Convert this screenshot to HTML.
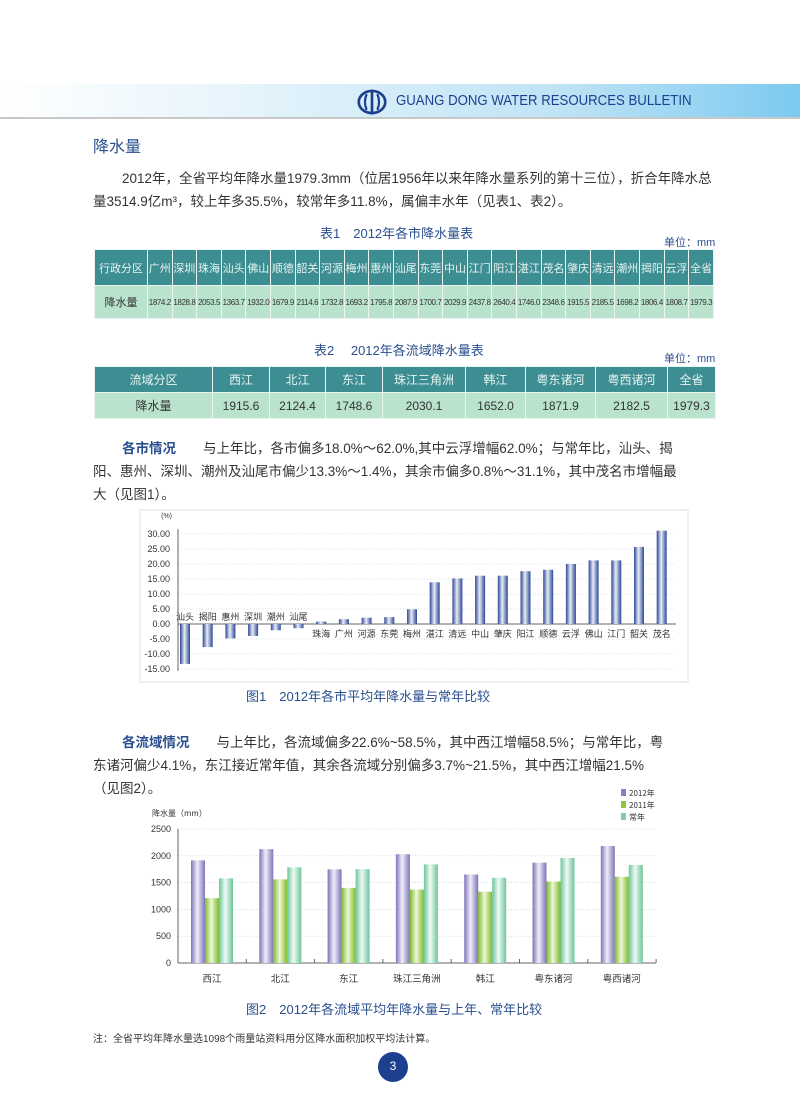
<!DOCTYPE html>
<html><head><meta charset="utf-8">
<style>
body{margin:0;width:800px;height:1094px;position:relative;background:#fff;font-family:"Liberation Sans","Noto Sans CJK SC",sans-serif;color:#333;overflow:hidden}
.a{position:absolute;white-space:nowrap}
.hd{position:absolute;left:0;top:84px;width:800px;height:33px;background:linear-gradient(90deg,#fff 0%,#e6f4fb 30%,#bfe3f5 70%,#7ccaf0 100%);border-bottom:2px solid #c8c8c8}
.p{font-size:13.5px;color:#333}
table{border-collapse:collapse;position:absolute;left:94px;font-family:"Liberation Sans","Noto Sans CJK SC",sans-serif}
td{text-align:center;border:1px solid #e8f4ee;padding:0}
tr.h td{background:#3d8e93;color:#e8f4f0}
tr.d td{background:#b9e3cc;color:#333}
.cap{font-size:13px;color:#2a4f8f}
</style></head><body>
<div class="hd"></div>
<svg class="a" style="left:357px;top:89px" width="30" height="26" viewBox="0 0 34 28"><ellipse cx="17" cy="14" rx="15" ry="12.5" fill="none" stroke="#1d3f8f" stroke-width="3"/><line x1="17" y1="0" x2="17" y2="28" stroke="#1d3f8f" stroke-width="3"/><path d="M11 5 Q7 14 11 23 M23 5 Q27 14 23 23" fill="none" stroke="#1d3f8f" stroke-width="2.5"/></svg>
<div class="a" style="left:396px;top:92px;font-size:15px;color:#1d3f8f;transform:scaleX(0.88);transform-origin:0 0">GUANG DONG WATER RESOURCES BULLETIN</div>
<div class="a" style="left:93px;top:133px;font-size:16px;color:#2a4f8f">降水量</div>
<div class="a p" style="left:122px;top:167px">2012年，全省平均年降水量1979.3mm（位居1956年以来年降水量系列的第十三位），折合年降水总</div>
<div class="a p" style="left:93px;top:190px">量3514.9亿m³，较上年多35.5%，较常年多11.8%，属偏丰水年（见表1、表2）。</div>
<div class="a cap" style="left:320px;top:223px;color:#2a4f8f">表1　2012年各市降水量表</div>
<div class="a" style="left:664px;top:234px;font-size:11px;color:#2a4f8f">单位：mm</div>
<table style="top:249px;width:620px">
<tr class="h" style="height:36px;font-size:11px"><td style="width:52px">行政分区</td><td>广州</td><td>深圳</td><td>珠海</td><td>汕头</td><td>佛山</td><td>顺德</td><td>韶关</td><td>河源</td><td>梅州</td><td>惠州</td><td>汕尾</td><td>东莞</td><td>中山</td><td>江门</td><td>阳江</td><td>湛江</td><td>茂名</td><td>肇庆</td><td>清远</td><td>潮州</td><td>揭阳</td><td>云浮</td><td>全省</td></tr>
<tr class="d" style="height:33px;font-size:8px;letter-spacing:-0.4px"><td style="font-size:11px;letter-spacing:0">降水量</td><td>1874.2</td><td>1828.8</td><td>2053.5</td><td>1363.7</td><td>1932.0</td><td>1679.9</td><td>2114.6</td><td>1732.8</td><td>1693.2</td><td>1795.8</td><td>2087.9</td><td>1700.7</td><td>2029.9</td><td>2437.8</td><td>2640.4</td><td>1746.0</td><td>2348.6</td><td>1915.5</td><td>2185.5</td><td>1698.2</td><td>1806.4</td><td>1808.7</td><td>1979.3</td></tr>
</table>
<div class="a cap" style="left:314px;top:340px">表2　 2012年各流域降水量表</div>
<div class="a" style="left:664px;top:350px;font-size:11px;color:#2a4f8f">单位：mm</div>
<table style="top:366px;width:622px;font-size:12px">
<tr class="h" style="height:26px"><td style="width:117px">流域分区</td><td style="width:56px">西江</td><td style="width:55px">北江</td><td style="width:56px">东江</td><td style="width:82px">珠江三角洲</td><td style="width:59px">韩江</td><td style="width:69px">粤东诸河</td><td style="width:71px">粤西诸河</td><td>全省</td></tr>
<tr class="d" style="height:26px"><td>降水量</td><td>1915.6</td><td>2124.4</td><td>1748.6</td><td>2030.1</td><td>1652.0</td><td>1871.9</td><td>2182.5</td><td>1979.3</td></tr>
</table>
<div class="a p" style="left:122px;top:437px"><span style="color:#2a4f8f;font-weight:bold">各市情况</span>　　与上年比，各市偏多18.0%～62.0%,其中云浮增幅62.0%；与常年比，汕头、揭</div>
<div class="a p" style="left:93px;top:460px">阳、惠州、深圳、潮州及汕尾市偏少13.3%～1.4%，其余市偏多0.8%～31.1%，其中茂名市增幅最</div>
<div class="a p" style="left:93px;top:483px">大（见图1）。</div>

<svg class="a" style="left:0;top:505px" width="800" height="180">
<defs><linearGradient id="g1" x1="0" x2="1"><stop offset="0" stop-color="#2b4796"/><stop offset="0.45" stop-color="#e8ecf6"/><stop offset="1" stop-color="#2b4796"/></linearGradient></defs>
<rect x="140" y="5" width="548" height="172" fill="none" stroke="#e2e2e2"/>
<g font-size="9" fill="#333" text-anchor="end" font-family="Liberation Sans,sans-serif">
<text x="172" y="13" font-size="7">(%)</text>
</g>
<g id="c1"></g>
</svg>
<script>
(function(){
var g=document.getElementById('c1'),s='';
var z=119,u=3;
for(var i=-3;i<=6;i++){var y=z-i*5*u;s+='<line x1="178" x2="676" y1="'+y+'" y2="'+y+'" stroke="#9cc" stroke-dasharray="1,2" stroke-width="0.6"/>';s+='<text x="170" y="'+(y+3)+'" font-size="9" text-anchor="end" fill="#333">'+(i*5).toFixed(2)+'</text>';}
s+='<line x1="178" x2="178" y1="24" y2="166" stroke="#666"/><line x1="178" x2="676" y1="'+z+'" y2="'+z+'" stroke="#666"/>';
var n=['汕头','揭阳','惠州','深圳','潮州','汕尾','珠海','广州','河源','东莞','梅州','湛江','清远','中山','肇庆','阳江','顺德','云浮','佛山','江门','韶关','茂名'];
var v=[-13.3,-7.7,-4.8,-4.0,-2.1,-1.4,0.8,1.6,2.1,2.3,4.9,13.9,15.2,16.1,16.1,17.6,18.1,20.0,21.2,21.2,25.7,31.1];
for(var k=0;k<22;k++){var x=185+k*22.7,h=v[k]*u;var y=h>0?z-h:z;
s+='<rect x="'+(x-5)+'" y="'+y+'" width="10" height="'+Math.abs(h)+'" fill="url(#g1)"/>';
s+='<text x="'+x+'" y="'+(v[k]<0?z-4:z+13)+'" font-size="9" text-anchor="middle" fill="#333" font-family="Noto Sans CJK SC,sans-serif">'+n[k]+'</text>';}
g.innerHTML=s;})();
</script>
<div class="a cap" style="left:246px;top:686px">图1　2012年各市平均年降水量与常年比较</div>
<div class="a p" style="left:122px;top:731px"><span style="color:#2a4f8f;font-weight:bold">各流域情况</span>　　与上年比，各流域偏多22.6%~58.5%，其中西江增幅58.5%；与常年比，粤</div>
<div class="a p" style="left:93px;top:754px">东诸河偏少4.1%，东江接近常年值，其余各流域分别偏多3.7%~21.5%，其中西江增幅21.5%</div>
<div class="a p" style="left:93px;top:777px">（见图2）。</div>

<svg class="a" style="left:0;top:785px" width="800" height="215">
<defs>
<linearGradient id="p" x1="0" x2="1"><stop offset="0" stop-color="#7f74b8"/><stop offset="0.45" stop-color="#f0eef8"/><stop offset="1" stop-color="#7f74b8"/></linearGradient>
<linearGradient id="gr" x1="0" x2="1"><stop offset="0" stop-color="#7dbb2c"/><stop offset="0.45" stop-color="#eef7d8"/><stop offset="1" stop-color="#7dbb2c"/></linearGradient>
<linearGradient id="t" x1="0" x2="1"><stop offset="0" stop-color="#6cc59a"/><stop offset="0.45" stop-color="#effaf4"/><stop offset="1" stop-color="#6cc59a"/></linearGradient>
</defs>
<g id="c2"></g>
</svg>
<script>
(function(){
var g=document.getElementById('c2'),s='';
var z=178,top=44,sc=(z-top)/2500;
for(var i=0;i<=5;i++){var y=z-i*500*sc;if(i>0)s+='<line x1="178" x2="656" y1="'+y+'" y2="'+y+'" stroke="#9cc" stroke-dasharray="1,2" stroke-width="0.6"/>';s+='<text x="171" y="'+(y+3)+'" font-size="9" text-anchor="end" fill="#333">'+(i*500)+'</text>';}
s+='<line x1="178" x2="178" y1="'+top+'" y2="'+z+'" stroke="#666"/><line x1="178" x2="656" y1="'+z+'" y2="'+z+'" stroke="#666"/>';
var n=['西江','北江','东江','珠江三角洲','韩江','粤东诸河','粤西诸河'];
var a=[1915.6,2124.4,1748.6,2030.1,1652,1871.9,2182.5],b=[1210,1560,1400,1370,1330,1520,1610],c=[1580,1785,1750,1840,1590,1960,1830];
for(var k=0;k<7;k++){var x0=178+k*68.3;
s+='<line x1="'+(x0+68.3)+'" x2="'+(x0+68.3)+'" y1="'+z+'" y2="'+(z-4)+'" stroke="#666"/>';
[[a,'p',13],[b,'gr',27],[c,'t',41]].forEach(function(q){var h=q[0][k]*sc;s+='<rect x="'+(x0+q[2])+'" y="'+(z-h)+'" width="14" height="'+h+'" fill="url(#'+q[1]+')"/>';});
s+='<text x="'+(x0+34)+'" y="'+(z+19)+'" font-size="9.5" text-anchor="middle" fill="#333" font-family="Noto Sans CJK SC,sans-serif">'+n[k]+'</text>';}
s+='<text x="152" y="31" font-size="8" fill="#333" font-family="Noto Sans CJK SC,sans-serif">降水量（mm）</text>';
[['#8a7fc0','2012年',10],['#8dc63f','2011年',22],['#7fcfa8','常年',34]].forEach(function(l){s+='<rect x="621" y="'+(l[2]-6)+'" width="5" height="7" fill="'+l[0]+'"/><text x="629" y="'+(l[2]+1)+'" font-size="8" fill="#333" font-family="Noto Sans CJK SC,sans-serif">'+l[1]+'</text>';});
g.innerHTML=s;})();
</script>
<div class="a cap" style="left:246px;top:999px">图2　2012年各流域平均年降水量与上年、常年比较</div>
<div class="a" style="left:93px;top:1030px;font-size:10px;color:#333">注：全省平均年降水量选1098个雨量站资料用分区降水面积加权平均法计算。</div>
<div class="a" style="left:378px;top:1052px;width:30px;height:30px;border-radius:50%;background:#1d3f8f;color:#fff;font-size:12px;text-align:center;line-height:28px">3</div>
</body></html>
